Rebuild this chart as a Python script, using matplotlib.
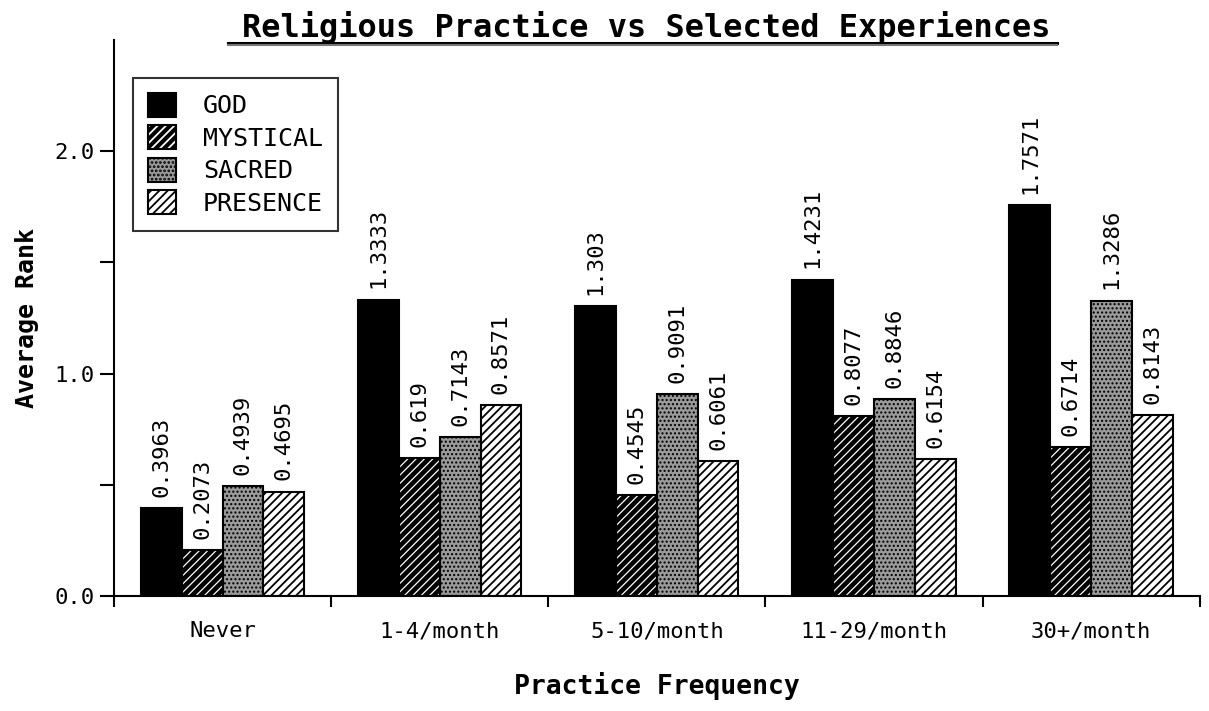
import numpy as np
import matplotlib.pyplot as plt
from matplotlib.lines import Line2D

# data
groups = ['Never', '1-4/month', '5-10/month', '11-29/month', '30+/month']
series = ['GOD', 'MYSTICAL', 'SACRED', 'PRESENCE']
god = [0.3963, 1.3333, 1.303, 1.4231, 1.7571]
mystical = [0.2073, 0.619, 0.4545, 0.8077, 0.6714]
sacred = [0.4939, 0.7143, 0.9091, 0.8846, 1.3286]
presence = [0.4695, 0.8571, 0.6061, 0.6154, 0.8143]
labels = [['0.3963', '1.3333', '1.303', '1.4231', '1.7571'],
          ['0.2073', '0.619', '0.4545', '0.8077', '0.6714'],
          ['0.4939', '0.7143', '0.9091', '0.8846', '1.3286'],
          ['0.4695', '0.8571', '0.6061', '0.6154', '0.8143']]

plt.rcParams['font.family'] = 'DejaVu Sans Mono'

fig = plt.figure(figsize=(12.09, 7.11), dpi=100)
ax = fig.add_axes([0.0943, 0.1617, 0.898, 0.782])

x = np.arange(len(groups)) + 0.5
w = 0.188
styles = [
    dict(facecolor='black', edgecolor='black', hatch=None, hlw=1.0),
    dict(facecolor='black', edgecolor='white', hatch='////', hlw=0.9),
    dict(facecolor='#9a9a9a', edgecolor='black', hatch='....', hlw=1.0),
    dict(facecolor='white', edgecolor='black', hatch='////', hlw=1.3),
]
data = [god, mystical, sacred, presence]

for i, (vals, st) in enumerate(zip(data, styles)):
    plt.rcParams['hatch.linewidth'] = st['hlw']
    xs = x + (i - 1.5) * w
    ax.bar(xs, vals, w, facecolor=st['facecolor'], edgecolor=st['edgecolor'],
           hatch=st['hatch'], linewidth=0, zorder=2)
    ax.bar(xs, vals, w, fill=False, edgecolor='black', linewidth=1.5, zorder=3)
    for xi, v, t in zip(xs, vals, labels[i]):
        ax.text(xi, v + 0.05, t, rotation=90, ha='center', va='bottom', fontsize=16)

ax.set_xlim(0, 5)
ax.set_ylim(0, 2.5)
for s in ['top', 'right']:
    ax.spines[s].set_visible(False)
for s in ['left', 'bottom']:
    ax.spines[s].set_linewidth(1.5)

ax.set_xticks(np.arange(0, 6))
ax.set_xticklabels([])
ax.set_xticks(x, minor=True)
ax.set_xticklabels(groups, minor=True, fontsize=16)
ax.tick_params(axis='x', which='major', length=8, width=1.5, direction='out')
ax.tick_params(axis='x', which='minor', length=0, pad=18)

ax.set_yticks([0, 1, 2])
ax.set_yticklabels(['0.0', '1.0', '2.0'], fontsize=16)
ax.set_yticks([0.5, 1.5], minor=True)
ax.tick_params(axis='y', which='both', length=10, width=1.5, direction='out', pad=4)

ax.set_xlabel('Practice Frequency', fontsize=19, fontweight='bold', labelpad=22)
ax.set_ylabel('Average Rank', fontsize=18, fontweight='bold', labelpad=11)

fig.text(0.5347, 0.961, 'Religious Practice vs Selected Experiences', ha='center',
         va='center', fontsize=23, fontweight='bold')
fig.add_artist(Line2D([0.1886, 0.874], [0.940, 0.940], color='black', linewidth=2.2,
                      transform=fig.transFigure))
fig.add_artist(Line2D([0.1886, 0.874], [0.937, 0.937], color='#777777', linewidth=1.5,
                      transform=fig.transFigure))

# legend
handles = []
for st in styles:
    plt.rcParams['hatch.linewidth'] = st['hlw']
    fill = plt.Rectangle((0, 0), 1, 1, facecolor=st['facecolor'],
                         edgecolor=st['edgecolor'], hatch=st['hatch'], linewidth=0)
    edge = plt.Rectangle((0, 0), 1, 1, fill=False, edgecolor='black', linewidth=1.5)
    handles.append((fill, edge))
leg = ax.legend(handles, series, loc='upper left', bbox_to_anchor=(0.0175, 0.932),
                borderaxespad=0, fontsize=18, frameon=True, fancybox=False,
                edgecolor='black', handlelength=1.1, handleheight=1.1,
                labelspacing=0.28, borderpad=0.6, handletextpad=1.1)
leg.get_frame().set_linewidth(1.5)

fig.savefig('out.png', dpi=100)
